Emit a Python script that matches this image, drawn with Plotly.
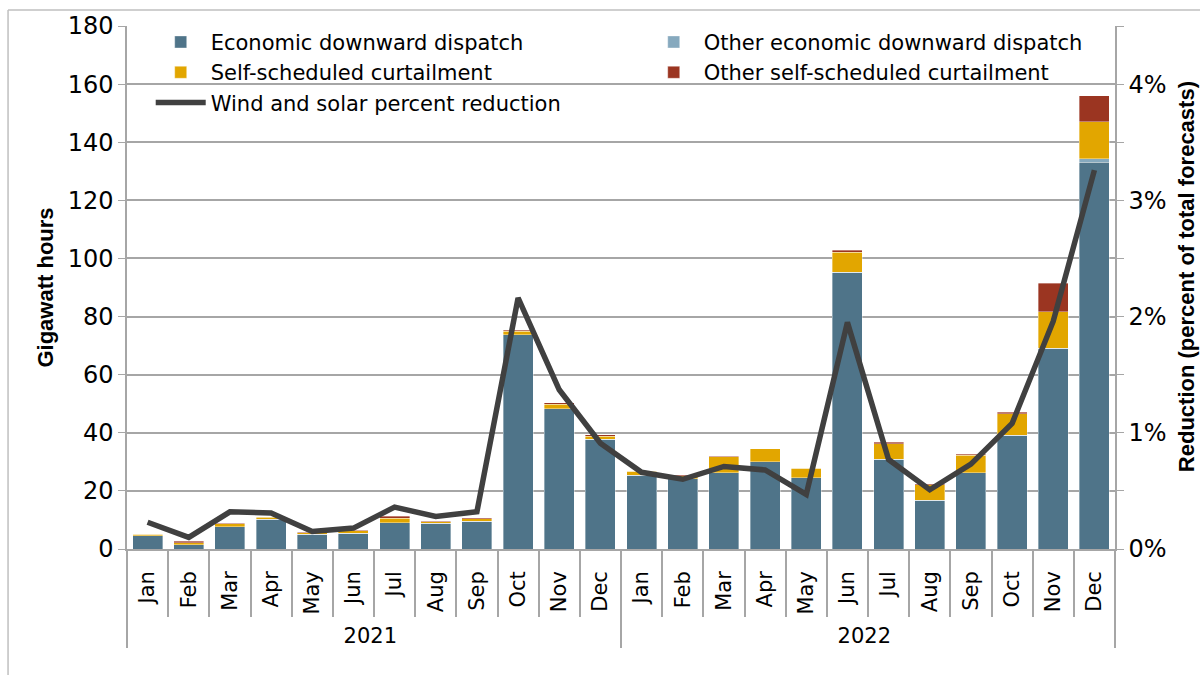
import plotly.graph_objects as go

months = ["Jan", "Feb", "Mar", "Apr", "May", "Jun", "Jul", "Aug", "Sep", "Oct", "Nov", "Dec"]
years = ["2021", "2022"]

econ = [4.6, 1.5, 7.7, 10.3, 5.0, 5.4, 9.1, 8.8, 9.5, 73.8, 48.3, 37.7,
        25.3, 24.2, 26.2, 30.1, 24.6, 95.0, 30.9, 16.7, 26.2, 39.2, 69.1, 133.1]
other_econ = [0.0, 0.0, 0.0, 0.0, 0.0, 0.0, 0.0, 0.0, 0.0, 0.0, 0.0, 0.0,
              0.0, 0.0, 0.0, 0.0, 0.0, 0.3, 0.0, 0.0, 0.0, 0.0, 0.0, 1.2]
self_sched = [0.4, 0.6, 1.0, 0.6, 0.6, 0.8, 1.5, 0.6, 0.9, 1.2, 1.6, 1.1,
              1.4, 1.0, 5.6, 4.4, 3.2, 6.9, 5.3, 5.5, 6.0, 7.3, 12.6, 12.8]
other_self = [0.1, 0.5, 0.2, 0.2, 0.2, 0.3, 0.6, 0.2, 0.3, 0.3, 0.4, 0.6,
              0.1, 0.3, 0.1, 0.0, 0.0, 0.6, 0.5, 0.2, 0.4, 0.5, 9.8, 8.9]
pct_reduction = [0.23, 0.10, 0.32, 0.31, 0.15, 0.18, 0.36, 0.28, 0.32, 2.16, 1.37, 0.91,
                 0.66, 0.60, 0.71, 0.68, 0.47, 1.95, 0.77, 0.51, 0.73, 1.08, 1.96, 3.26]

left_ticks = [0, 20, 40, 60, 80, 100, 120, 140, 160, 180]
right_ticks = [0, 1, 2, 3, 4]
right_labels = ["0%", "1%", "2%", "3%", "4%"]
right_title = "Reduction (percent of total forecasts)"
left_title = "Gigawatt hours"

x_years = [y for y in years for _ in months]
x_months = [m for _ in years for m in months]
x = [x_years, x_months]

FONT = "DejaVu Sans"
TITLE_FONT = "Liberation Sans"
GRID = "#A6A6A6"

fig = go.Figure()
series = [
    ("Economic downward dispatch", econ, "#4F7489", "legend"),
    ("Other economic downward dispatch", other_econ, "#86A9BE", "legend2"),
    ("Self-scheduled curtailment", self_sched, "#E2A600", "legend"),
    ("Other self-scheduled curtailment", other_self, "#9B3521", "legend2"),
]
for name, vals, col, lg in series:
    fig.add_trace(go.Bar(x=x, y=vals, name=name, marker_color=col,
                         marker_line_color="rgba(255,255,255,0.6)", marker_line_width=0.6,
                         legend=lg))

fig.add_trace(go.Scatter(x=x, y=pct_reduction, name="Wind and solar percent reduction",
                         mode="lines", line=dict(color="#404040", width=5.5),
                         yaxis="y2", legend="legend"))

fig.update_layout(
    width=1200, height=675,
    margin=dict(l=127, r=85, t=24, b=126),
    paper_bgcolor="white", plot_bgcolor="white",
    barmode="stack", bargap=0.27,
    font=dict(family=FONT, size=21, color="black"),
    xaxis=dict(type="multicategory", tickangle=-90, tickfont=dict(size=21),
               ticks="outside", ticklen=66, tickcolor=GRID, tickwidth=1.5,
               ticklabelstandoff=12,
               showline=True, linecolor=GRID, linewidth=1.5,
               showdividers=True, dividercolor=GRID, dividerwidth=1.5),
    yaxis=dict(range=[0, 180], tickvals=left_ticks, showgrid=True, gridcolor=GRID, gridwidth=1.5,
               showline=True, linecolor=GRID, linewidth=1.5, ticks="outside", ticklen=7,
               tickcolor=GRID, tickfont=dict(size=24), zeroline=False,
               title=dict(text="<b>" + left_title + "</b>", font=dict(family=TITLE_FONT, size=22), standoff=8)),
    yaxis2=dict(range=[0, 4.5], overlaying="y", side="right", tickvals=right_ticks,
                ticktext=right_labels, showgrid=False, showline=True, linecolor=GRID, linewidth=1.5,
                ticks="outside", ticklen=7, tickcolor=GRID, tickfont=dict(size=24), zeroline=False,
                minor=dict(ticks="outside", dtick=0.5, ticklen=7, tickcolor=GRID)),
    legend=dict(x=0.024, y=1.008, xanchor="left", yanchor="top", bgcolor="rgba(0,0,0,0)",
                font=dict(size=21), tracegroupgap=0, itemwidth=50, traceorder="normal"),
    legend2=dict(x=0.523, y=1.008, xanchor="left", yanchor="top", bgcolor="rgba(0,0,0,0)",
                 font=dict(size=21), tracegroupgap=0, itemwidth=50, traceorder="normal"),
    showlegend=True,
)

fig.add_annotation(text="<b>" + right_title + "</b>", xref="paper", yref="paper",
                   x=1.072, y=0.52, xanchor="center", yanchor="middle", textangle=-90,
                   showarrow=False, font=dict(family=TITLE_FONT, size=22, color="black"))

# outer frame lines
fig.add_shape(type="line", xref="paper", yref="paper", x0=-0.1204, x1=-0.1204, y0=-0.3, y1=1.0305,
              line=dict(color="#BFBFBF", width=1.5))
fig.add_shape(type="line", xref="paper", yref="paper", x0=-0.1204, x1=1.2, y0=1.0305, y1=1.0305,
              line=dict(color="#BFBFBF", width=1.5))

fig.write_html("out.html", config={"displayModeBar": False},
               post_script="document.body.style.margin='0';document.body.style.overflow='hidden';")
